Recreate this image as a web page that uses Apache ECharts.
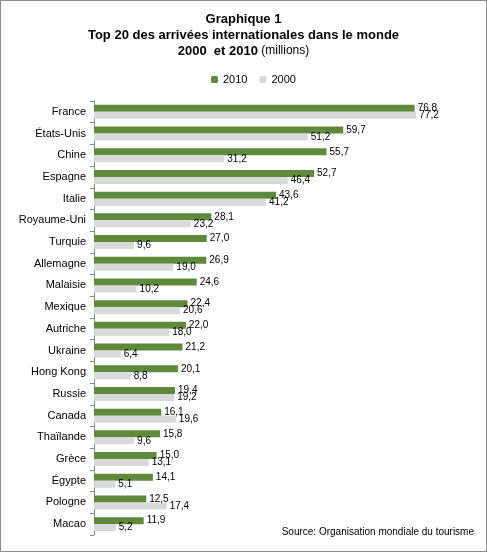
<!DOCTYPE html>
<html><head><meta charset="utf-8">
<script src="https://cdn.jsdelivr.net/npm/echarts@6/dist/echarts.min.js"></script>
<style>html,body{margin:0;padding:0;background:#fff}#c{width:487px;height:552px;box-sizing:border-box;border:1px solid #8c8c8c}</style>
</head><body><div id="c"></div>
<script>
const categories = ["France","États-Unis","Chine","Espagne","Italie","Royaume-Uni","Turquie","Allemagne","Malaisie","Mexique","Autriche","Ukraine","Hong Kong","Russie","Canada","Thaïlande","Grèce","Égypte","Pologne","Macao"];
const values2010 = [76.8,59.7,55.7,52.7,43.6,28.1,27.0,26.9,24.6,22.4,22.0,21.2,20.1,19.4,16.1,15.8,15.0,14.1,12.5,11.9];
const values2000 = [77.2,51.2,31.2,46.4,41.2,23.2,9.6,19.0,10.2,20.6,18.0,6.4,8.8,19.2,19.6,9.6,13.1,5.1,17.4,5.2];
const chart = echarts.init(document.getElementById('c'));
const fmt = p => p.value.toFixed(1).replace('.', ',');
chart.setOption({
  animation:false,
  textStyle:{fontFamily:'Liberation Sans, Arial, sans-serif'},
  title:{text:'Graphique 1\nTop 20 des arrivées internationales dans le monde',
    subtext:'{b|2000  et 2010} (millions)', left:'center', top:5, itemGap:0,
    textStyle:{fontSize:13,fontWeight:'bold',color:'#000',lineHeight:16},
    subtextStyle:{fontSize:12,color:'#000',lineHeight:16,rich:{b:{fontSize:13,fontWeight:'bold',color:'#000'}}}},
  legend:{top:68,left:205,itemWidth:7,itemHeight:7,itemGap:12,textStyle:{fontSize:11,color:'#000'},data:['2010','2000']},
  grid:{left:93,right:58,top:100,bottom:16,containLabel:false},
  xAxis:{type:'value',min:0,max:80,show:false},
  yAxis:{type:'category',data:categories,inverse:true,
    axisLine:{lineStyle:{color:'#888'}},axisTick:{show:true,length:4,lineStyle:{color:'#888'}},
    axisLabel:{fontSize:11,color:'#000',margin:8}},
  series:[
    {name:'2010',type:'bar',data:values2010,barWidth:7,barGap:'0%',itemStyle:{color:'#5f8a3c'},
      label:{show:true,position:'right',fontSize:10,color:'#000',formatter:fmt,distance:3}},
    {name:'2000',type:'bar',data:values2000,barWidth:7,itemStyle:{color:'#d9d9d9'},
      label:{show:true,position:'right',fontSize:10,color:'#000',formatter:fmt,distance:3}}
  ],
  graphic:[{type:'text',right:12,bottom:14,style:{text:'Source: Organisation mondiale du tourisme',fontSize:10,fill:'#000'}}]
});
</script></body></html>
